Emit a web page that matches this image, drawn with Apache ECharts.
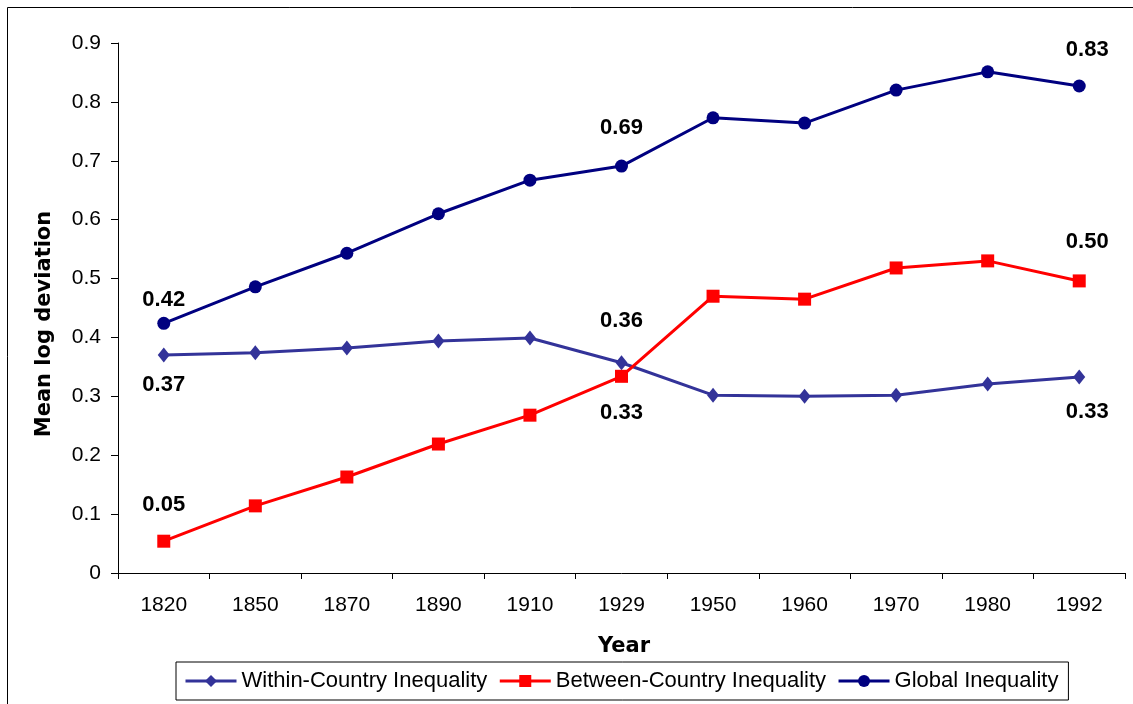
<!DOCTYPE html>
<html>
<head>
<meta charset="utf-8">
<script src="https://cdn.jsdelivr.net/npm/echarts@6/dist/echarts.min.js"></script>
<style>
html,body{margin:0;padding:0;background:#fff;}
#chart{width:1133px;height:704px;}
</style>
</head>
<body>
<div id="chart"></div>
<script>
const years = ['1820','1850','1870','1890','1910','1929','1950','1960','1970','1980','1992'];
const withinCountry = [0.370,0.374,0.382,0.394,0.399,0.357,0.302,0.300,0.302,0.321,0.333];
const betweenCountry = [0.054,0.114,0.163,0.219,0.268,0.334,0.470,0.465,0.518,0.530,0.496];
const globalIneq = [0.424,0.486,0.543,0.610,0.667,0.691,0.773,0.764,0.820,0.851,0.827];
const yTicks = ['0','0.1','0.2','0.3','0.4','0.5','0.6','0.7','0.8','0.9'];
const seriesNames = ['Within-Country Inequality','Between-Country Inequality','Global Inequality'];

// which points carry a value label: index -> [position, distance, x shift]
const withinLabels = {0:['bottom',11.5,0],5:['top',23.5,0],10:['bottom',16.5,8]};
const betweenLabels = {0:['top',18.5,0],5:['bottom',19.5,0],10:['top',21.5,8]};
const globalLabels = {0:['top',5.5,0],5:['top',20.5,0],10:['top',18.5,8]};

const FONT = 'Liberation Sans, Arial, sans-serif';
const NAMEFONT = 'DejaVu Sans, Liberation Sans, Arial, sans-serif';

function build(values, labels){
  return values.map((v,i)=>{
    const l = labels[i];
    if(l){
      return {value:v,label:{show:true,position:l[0],distance:l[1],offset:[l[2],0],
        formatter:p=>p.value.toFixed(2),fontSize:22,fontWeight:'bold',color:'#000',fontFamily:FONT}};
    }
    return v;
  });
}

const chart = echarts.init(document.getElementById('chart'));
chart.setOption({
  animation:false,
  backgroundColor:'#fff',
  textStyle:{fontFamily:FONT},
  graphic:[
    {type:'rect',shape:{x:7.5,y:7.5,width:1200,height:800},style:{fill:'none',stroke:'#000',lineWidth:1}},
    {type:'text',x:45,y:324,rotation:Math.PI/2,
      style:{text:'Mean log deviation',fontSize:21,fontWeight:'bold',fontFamily:NAMEFONT,fill:'#000',align:'center',verticalAlign:'middle'}},
    {type:'text',x:624,y:647,
      style:{text:'Year',fontSize:21,fontWeight:'bold',fontFamily:NAMEFONT,fill:'#000',align:'center',verticalAlign:'middle'}}
  ],
  grid:{left:118,right:8,top:43,bottom:131,containLabel:false},
  legend:{
    left:176, top:662,
    data:seriesNames,
    borderColor:'#000',borderWidth:1,borderRadius:0,padding:[8,10,8,8],
    itemWidth:51,itemHeight:15,itemGap:11,
    lineStyle:{width:3},
    textStyle:{fontSize:22,color:'#000',fontFamily:FONT}
  },
  xAxis:{
    type:'category',data:years,boundaryGap:true,
    axisLine:{lineStyle:{color:'#000',width:1}},
    axisTick:{show:true,inside:false,length:6,alignWithLabel:false,lineStyle:{color:'#000'}},
    axisLabel:{fontSize:21,color:'#000',margin:22,fontFamily:FONT},
    splitLine:{show:false}
  },
  yAxis:{
    type:'value',min:0,max:0.9,interval:0.1,
    axisLine:{show:true,lineStyle:{color:'#000',width:1}},
    axisTick:{show:true,inside:false,length:7,lineStyle:{color:'#000'}},
    axisLabel:{fontSize:21,color:'#000',margin:17,fontFamily:FONT,
      formatter:v=>yTicks[Math.round(v*10)]},
    splitLine:{show:false}
  },
  series:[
    {name:seriesNames[0],type:'line',data:build(withinCountry,withinLabels),
      symbol:'diamond',symbolSize:[12,15],lineStyle:{color:'#333399',width:3},itemStyle:{color:'#333399'}},
    {name:seriesNames[1],type:'line',data:build(betweenCountry,betweenLabels),
      symbol:'rect',symbolSize:13,lineStyle:{color:'#FF0000',width:3},itemStyle:{color:'#FF0000'}},
    {name:seriesNames[2],type:'line',data:build(globalIneq,globalLabels),
      symbol:'circle',symbolSize:13,lineStyle:{color:'#000080',width:3},itemStyle:{color:'#000080'}}
  ]
});
</script>
</body>
</html>
